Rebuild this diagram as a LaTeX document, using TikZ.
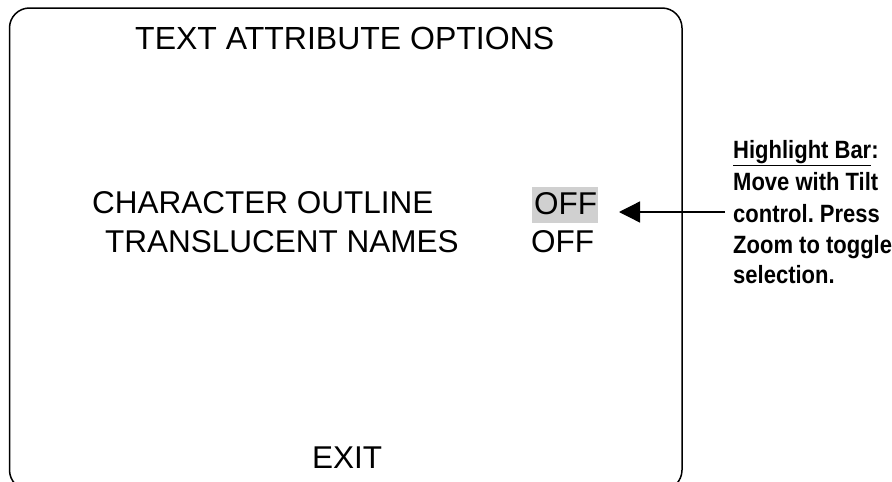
\documentclass[tikz,border=0pt]{standalone}
\usepackage{fontspec}
\setmainfont{Liberation Sans}
\newfontfamily\nb{Liberation Sans}[FakeStretch=0.88]
\usetikzlibrary{arrows.meta}
\definecolor{hlgray}{RGB}{208,208,208}
\frenchspacing
\begin{document}
\begin{tikzpicture}[x=1pt,y=-1pt,
  big/.style={inner sep=0pt,anchor=base west,font=\fontsize{31.5}{36}\selectfont},
  note/.style={inner sep=0pt,anchor=base west,font=\nb\bfseries\fontsize{25}{29}\selectfont},
  frame/.style={draw=black,line width=1.5pt,rounded corners=20pt},
  pointer/.style={draw=black,line width=1.3pt,-{Triangle[length=21pt,width=21pt]}}]
\useasboundingbox (0,0) rectangle (892,482);
\draw[frame] (9.5,8) rectangle (682,490);
\node[big,font=\fontsize{32}{36}\selectfont] (title) at (135,49) {TEXT ATTRIBUTE OPTIONS};
\node[big] (opt1) at (92,213) {CHARACTER OUTLINE};
\node[big] (opt2) at (105,252) {TRANSLUCENT NAMES};
\fill[hlgray] (532,187) rectangle (598,223);
\node[big] (val1) at (534,214) {OFF};
\node[big] (val2) at (531,252) {OFF};
\node[big] (exit) at (312,468) {EXIT};
\node[note] (n1) at (733,158) {\underline{Highlight Bar}:};
\node[note] (n2) at (733,190) {Move with Tilt};
\node[note] (n3) at (733,222) {control.\ Press};
\node[note] (n4) at (733,253) {Zoom to toggle};
\node[note] (n5) at (733,283) {selection.};
\coordinate (astart) at (725,212);
\coordinate (aend) at (619,212);
\draw[pointer] (astart) -- (aend);
\end{tikzpicture}
\end{document}
